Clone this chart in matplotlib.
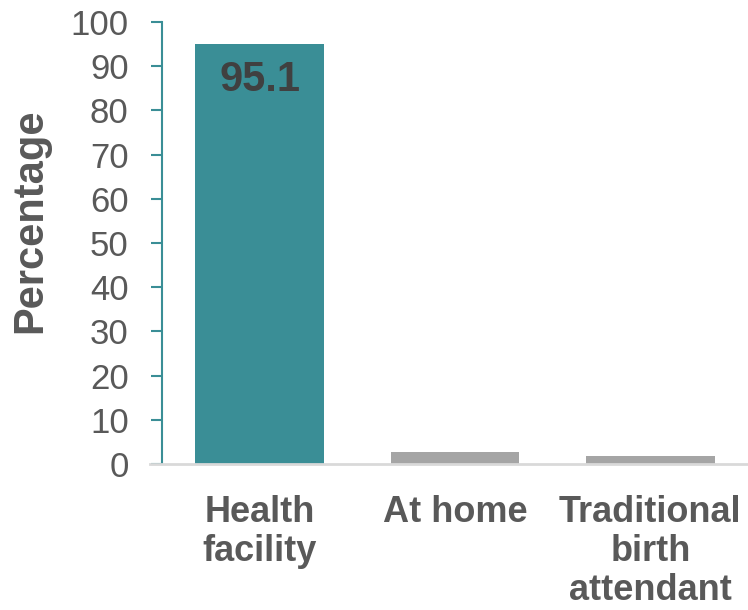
import matplotlib.pyplot as plt

plt.rcParams['font.family'] = ['Liberation Sans', 'DejaVu Sans']

# place of delivery
categories = ['Health\nfacility', 'At home', 'Traditional\nbirth\nattendant']
values = [95.1, 2.7, 1.8]
bar_colors = ['#3a8e96', '#a5a5a5', '#a5a5a5']
yticks = list(range(0, 101, 10))

text_color = '#595959'
teal = '#3a8e96'

fig = plt.figure(figsize=(7.48, 6.10), dpi=100)
ax = fig.add_axes([162 / 748, 1 - 464 / 610, 586 / 748, 442 / 610])

x = range(len(categories))
bars = ax.bar(x, values, width=0.66, color=bar_colors, zorder=2)

# value label only on the first bar
ax.annotate(f'{values[0]:.1f}', xy=(0, values[0]), xytext=(0, -26),
            textcoords='offset points', ha='center', va='center',
            fontsize=30, fontweight='bold', color='#404040')

ax.set_xlim(-0.5, 2.5)
ax.set_ylim(0, 100)
ax.set_yticks(yticks)
ax.set_xticks(list(x))
ax.set_xticklabels(categories, fontsize=26, fontweight='bold', color=text_color,
                   linespacing=1.15)
ax.tick_params(axis='x', length=0, pad=22)
ax.tick_params(axis='y', length=8, width=1.5, color=teal, labelsize=25,
               labelcolor=text_color, pad=16)

ax.set_ylabel('Percentage', fontsize=30, fontweight='bold', color=text_color,
              va='center')
ax.yaxis.set_label_coords(-0.225, 0.55)

for side in ['top', 'right']:
    ax.spines[side].set_visible(False)
ax.spines['left'].set_color(teal)
ax.spines['left'].set_linewidth(1.5)
ax.spines['bottom'].set_color('#d9d9d9')
ax.spines['bottom'].set_linewidth(2)
ax.spines['bottom'].set_bounds(-0.56, 2.5)

fig.savefig('out.png', dpi=100)
